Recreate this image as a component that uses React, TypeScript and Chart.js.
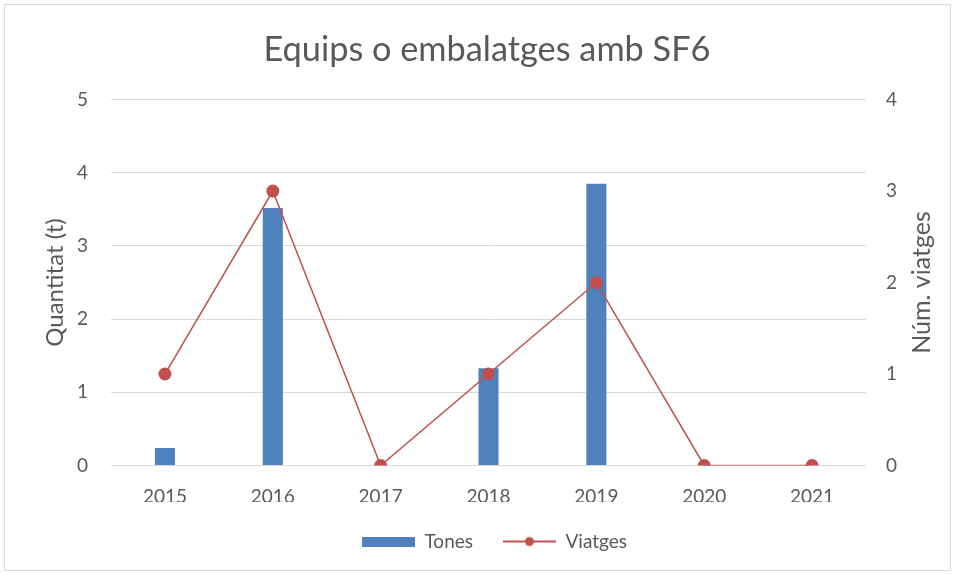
import React, { useEffect, useRef } from "react";
import { Chart, registerables } from "chart.js";

Chart.register(...registerables);

const title = "Equips o embalatges amb SF6";
const years = ["2015", "2016", "2017", "2018", "2019", "2020", "2021"];
const tones = [0.24, 3.52, 0, 1.33, 3.85, 0, 0];
const viatges = [1, 3, 0, 1, 2, 0, 0];
const leftAxisTitle = "Quantitat (t)";
const rightAxisTitle = "Núm. viatges";
const seriesNames = ["Tones", "Viatges"];

const BLUE = "#4f81bd";
const RED = "#c0504d";
const TEXT = "#595959";
const GRID = "#d9d9d9";
const FONT = "Lato, 'Open Sans', sans-serif";

function makeBoxIcon(): HTMLCanvasElement {
  const c = document.createElement("canvas");
  c.width = 53;
  c.height = 10;
  const ctx = c.getContext("2d")!;
  ctx.fillStyle = BLUE;
  ctx.fillRect(0, 0, 53, 10);
  return c;
}

function makeLineIcon(): HTMLCanvasElement {
  const c = document.createElement("canvas");
  c.width = 53;
  c.height = 12;
  const ctx = c.getContext("2d")!;
  ctx.strokeStyle = RED;
  ctx.lineWidth = 2;
  ctx.beginPath();
  ctx.moveTo(0, 6);
  ctx.lineTo(53, 6);
  ctx.stroke();
  ctx.fillStyle = RED;
  ctx.beginPath();
  ctx.arc(26.5, 6, 4.5, 0, Math.PI * 2);
  ctx.fill();
  return c;
}

const framePlugin = {
  id: "frame",
  afterLayout(chart: any) {
    const lg = chart.legend;
    if (lg && lg.lineWidths) {
      lg.lineWidths = lg.lineWidths.map((w: number) => w - 34);
    }
    const tb = chart.titleBlock;
    if (tb) {
      tb.left = tb.left + 19;
    }
  },
  beforeDraw(chart: any) {
    const { ctx, width, height } = chart;
    ctx.save();
    ctx.fillStyle = "#ffffff";
    ctx.fillRect(0, 0, width, height);
    ctx.strokeStyle = GRID;
    ctx.lineWidth = 1;
    ctx.strokeRect(4.5, 4.5, width - 9, height - 9);
    ctx.restore();
  },
  afterDraw(chart: any) {
    const { ctx, chartArea } = chart;
    ctx.save();
    ctx.fillStyle = TEXT;
    ctx.font = `25px ${FONT}`;
    ctx.textAlign = "center";
    ctx.textBaseline = "middle";
    ctx.translate(922, (chartArea.top + chartArea.bottom) / 2);
    ctx.rotate(-Math.PI / 2);
    ctx.fillText(rightAxisTitle, 0, 0);
    ctx.restore();
  },
};

export default function App() {
  const ref = useRef<HTMLCanvasElement | null>(null);

  useEffect(() => {
    if (!ref.current) return;
    const boxIcon = makeBoxIcon();
    const lineIcon = makeLineIcon();
    const chart = new Chart(ref.current, {
      type: "bar",
      data: {
        labels: years,
        datasets: [
          {
            type: "bar",
            label: seriesNames[0],
            data: tones,
            backgroundColor: BLUE,
            yAxisID: "y",
            order: 2,
            categoryPercentage: 1,
            barPercentage: 0.186,
          },
          {
            type: "line",
            label: seriesNames[1],
            data: viatges,
            borderColor: RED,
            backgroundColor: RED,
            borderWidth: 1.5,
            pointRadius: 6.5,
            pointBackgroundColor: RED,
            pointBorderWidth: 0,
            yAxisID: "y1",
            order: 1,
          },
        ],
      },
      options: {
        animation: false,
        responsive: false,
        maintainAspectRatio: false,
        layout: { padding: { left: 0, right: 0, top: 0, bottom: 14 } },
        plugins: {
          tooltip: { enabled: false },
          title: {
            display: true,
            text: title,
            color: TEXT,
            font: { family: FONT, size: 34.3, weight: "normal" },
            padding: { top: 29.2, bottom: 29.2 },
          },
          legend: {
            position: "bottom",
            labels: {
              color: TEXT,
              font: { family: FONT, size: 19 },
              usePointStyle: true,
              pointStyleWidth: 53,
              padding: 30,
              generateLabels: () => [
                {
                  text: seriesNames[0],
                  fillStyle: BLUE,
                  strokeStyle: BLUE,
                  lineWidth: 0,
                  pointStyle: boxIcon as any,
                  hidden: false,
                  datasetIndex: 0,
                  fontColor: TEXT,
                },
                {
                  text: seriesNames[1],
                  fillStyle: RED,
                  strokeStyle: RED,
                  lineWidth: 0,
                  pointStyle: lineIcon as any,
                  hidden: false,
                  datasetIndex: 1,
                  fontColor: TEXT,
                },
              ],
            },
          },
        },
        scales: {
          x: {
            grid: { display: false, drawTicks: false },
            border: { display: false },
            ticks: {
              color: TEXT,
              font: { family: FONT, size: 19 },
              padding: 19.6,
            },
            afterFit: (scale: any) => {
              scale.height = 36.5;
            },
          },
          y: {
            position: "left",
            min: 0,
            max: 5,
            grid: { color: GRID, lineWidth: 1, drawTicks: false },
            border: { display: false },
            ticks: {
              stepSize: 1,
              color: TEXT,
              font: { family: FONT, size: 19 },
              padding: 23,
            },
            title: {
              display: true,
              text: leftAxisTitle,
              color: TEXT,
              font: { family: FONT, size: 24 },
              padding: { top: 40.6, bottom: 0 },
            },
            afterFit: (scale: any) => {
              scale.width = 111;
            },
          },
          y1: {
            position: "right",
            min: 0,
            max: 4,
            grid: { display: false, drawTicks: false },
            border: { display: false },
            ticks: {
              stepSize: 1,
              color: TEXT,
              font: { family: FONT, size: 19 },
              padding: 20,
            },
            afterFit: (scale: any) => {
              scale.width = 89;
            },
          },
        },
      },
      plugins: [framePlugin],
    });
    return () => chart.destroy();
  }, []);

  return (
    <div style={{ position: "absolute", left: 0, top: 0, width: 955, height: 575 }}>
      <canvas ref={ref} width={955} height={575} style={{ display: "block", width: 955, height: 575 }} />
    </div>
  );
}
